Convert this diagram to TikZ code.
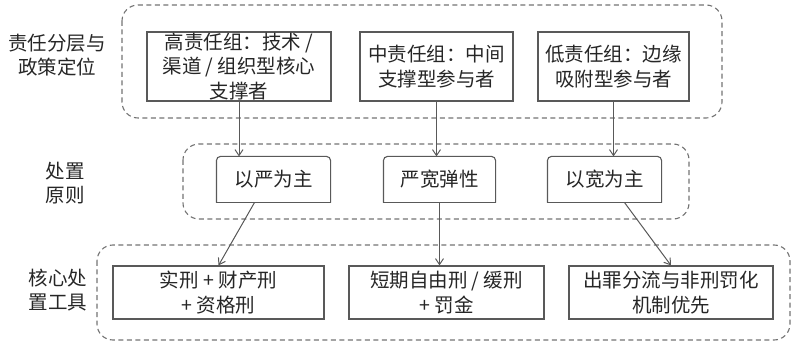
\documentclass[tikz,border=0pt]{standalone}
\usepackage{fontspec}
\setmainfont{Noto Sans CJK SC}
\usetikzlibrary{arrows.meta,positioning}

\begin{document}
\begin{tikzpicture}[
  x=1pt, y=-1pt,
  font=\fontsize{19.5}{24.5}\selectfont,
  >={Straight Barb[length=6pt,width=8pt]},
  label/.style={align=center, text=black!85, inner sep=0pt},
  box/.style={rectangle, draw=black!65, line width=1.1pt, fill=white, align=center, text=black!85, inner sep=0pt},
  topbox/.style={box, minimum height=69pt},
  midbox/.style={box, draw=none, fill=none, minimum height=45pt},
  botbox/.style={box, minimum height=53pt},
  group/.style={draw=black!55, line width=1.1pt, dash pattern=on 5pt off 3.5pt, rounded corners=16pt},
  arrow/.style={->, line width=1pt, draw=black!65}
]
\useasboundingbox (0,0) rectangle (800,347);

% dashed groups
\draw[group] (122,5) rectangle (722,118);
\draw[group] (183,144) rectangle (689,219);
\draw[group] (97,245) rectangle (790,340);

% row labels
\node[label] (lab1) at (57,55) {责任分层与\\政策定位};
\node[label] (lab2) at (65,183) {处置\\原则};
\node[label] (lab3) at (58,290) {核心处\\置工具};

% responsibility tiers
\node[topbox, minimum width=184pt] (high) at (239,66.5) {高责任组：技术 /\\渠道 / 组织型核心\\支撑者};
\node[topbox, minimum width=153pt] (mid) at (436.5,66.5) {中责任组：中间\\支撑型参与者};
\node[topbox, minimum width=151pt] (low) at (613.5,66.5) {低责任组：边缘\\吸附型参与者};

% principles (top corners rounded)
\node[midbox, minimum width=113pt] (strict) at (273.5,179.5) {以严为主};
\node[midbox, minimum width=111pt] (flex) at (439.5,179.5) {严宽弹性};
\node[midbox, minimum width=113pt] (lenient) at (604.5,179.5) {以宽为主};
\foreach \n in {strict,flex,lenient}{
  \draw[draw=black!65, line width=1.1pt, rounded corners=4pt] (\n.south west) -- (\n.north west) -- (\n.north east) -- (\n.south east);
  \draw[draw=black!65, line width=1.1pt] (\n.south west) -- (\n.south east);
}

% tools
\node[botbox, minimum width=211pt] (real) at (218.5,292.5) {实刑 + 财产刑\\+ 资格刑};
\node[botbox, minimum width=195pt] (short) at (446.5,292.5) {短期自由刑 / 缓刑\\+ 罚金};
\node[botbox, minimum width=204pt] (divert) at (671,292.5) {出罪分流与非刑罚化\\机制优先};

\draw[arrow] (high.south) -- (high.south |- strict.north);
\draw[arrow] (mid.south) -- (mid.south |- flex.north);
\draw[arrow] (low.south) -- (low.south |- lenient.north);
\draw[arrow] ([xshift=-19pt]strict.south) -- (real.north);
\draw[arrow] (flex.south) -- (flex.south |- short.north);
\draw[arrow] ([xshift=20pt]lenient.south) -- (divert.north);
\end{tikzpicture}
\end{document}
